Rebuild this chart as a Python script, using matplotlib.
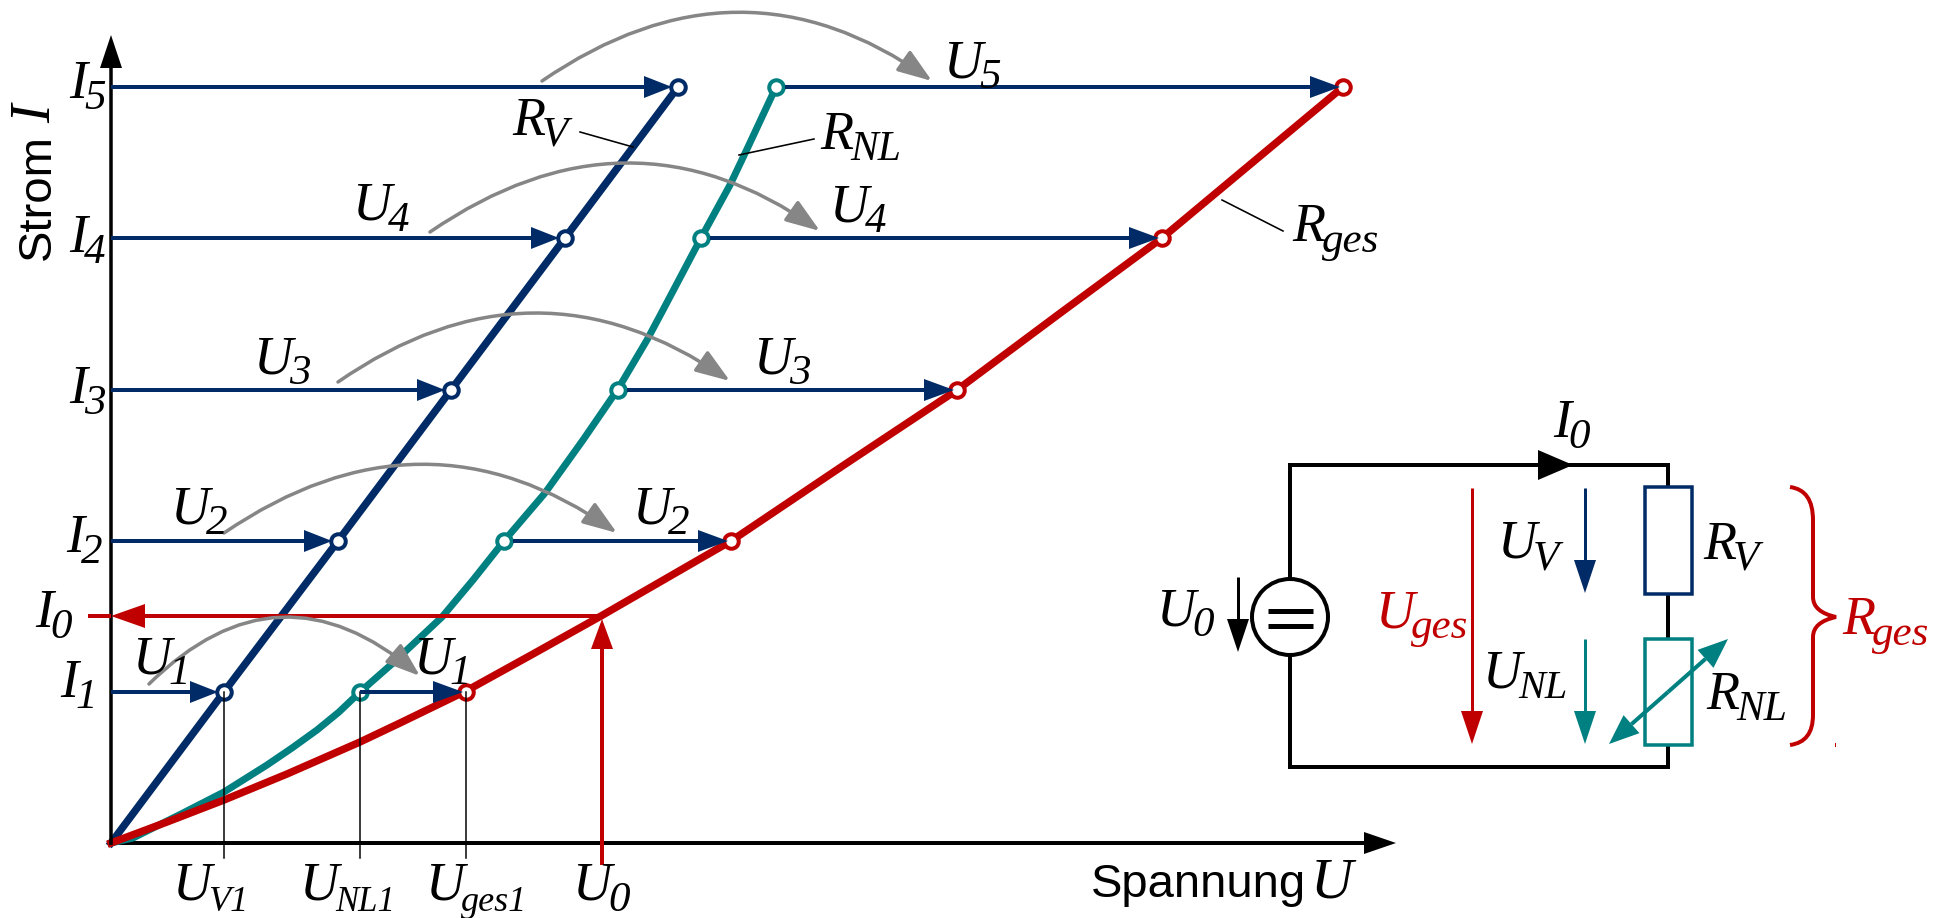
import matplotlib
matplotlib.use('Agg')
import matplotlib.pyplot as plt
import numpy as np
from matplotlib.patches import Ellipse, FancyArrowPatch, PathPatch, Rectangle
from matplotlib.path import Path

# values (1 unit = 1 pixel, origin = crossing of the axes)
strom = [151, 302, 453, 605, 756]
u_rv = [113, 227, 340, 454, 567]
u_rnl = [249, 393, 507, 590, 665]
u_rges = [355, 620, 846, 1051, 1232]

rv_u = [0, 113, 227, 340, 454, 567]
rv_i = [0, 151, 302, 453, 605, 756]
rnl_u = [0, 22, 72, 113, 156, 181, 206, 228, 249, 282, 331, 362, 393, 434, 472, 507, 536, 552, 590, 619, 637, 665]
rnl_i = [0, 5, 30, 51, 78, 95, 113, 131, 151, 180, 226, 263, 302, 350, 403, 454, 503, 533, 605, 658, 696, 756]
rges_u = [0, 56, 113, 176, 249, 289, 355, 422, 490, 620, 733, 846, 948, 1051, 1232]
rges_i = [0, 21, 43, 69, 101, 120, 152, 189, 227, 302, 378, 453, 529, 605, 756]

i0 = 227
u0 = 491

# grey arcs: start, control, end in picture pixels
bogen = [
    ((149, 684), (279, 556), (420, 676)),
    ((224, 533), (423, 397), (617, 533)),
    ((338, 382), (534, 246), (730, 381)),
    ((430, 232), (628, 96), (820, 231)),
    ((542, 81), (740, -55), (932, 81)),
]

NAVY = '#002b66'
TEAL = '#008080'
RED = '#c00000'
GREY = '#868686'

def pt(px):
    return px * 0.72

fig = plt.figure(figsize=(19.49, 9.18), dpi=100, facecolor='white')

# chart axes in U/I units
ax = fig.add_axes([0, 0, 1, 1])
ax.set_xlim(-111, 1838)
ax.set_ylim(-75, 843)
ax.axis('off')

# overlay in picture pixels for labels and the circuit
sk = fig.add_axes([0, 0, 1, 1])
sk.set_xlim(0, 1949)
sk.set_ylim(918, 0)
sk.axis('off')
sk.patch.set_alpha(0)

renderer = fig.canvas.get_renderer()


def arrow(a, x0, y0, x1, y1, color, lw=4, hl=28, hw=22, z=3):
    d = np.array([x1 - x0, y1 - y0], dtype=float)
    d = d / np.hypot(*d)
    n = np.array([-d[1], d[0]])
    tip = np.array([x1, y1])
    base = tip - d * hl
    a.plot([x0, base[0]], [y0, base[1]], color=color, lw=pt(lw), solid_capstyle='butt', zorder=z)
    head = np.array([tip, base + n * hw / 2, base - n * hw / 2])
    a.fill(head[:, 0], head[:, 1], color=color, lw=0, zorder=z)


def label(x, y, main, sub=None, color='black', size=39, subsize=31, drop=11, gap=-3):
    # italic U has a wide left bearing, x is where the ink starts
    if main == 'U':
        x = x - 4
    t = sk.text(x, y, main, family='Liberation Serif', style='italic', fontsize=size,
                color=color, va='baseline', ha='left', zorder=10)
    if sub:
        bb = t.get_window_extent(renderer)
        sk.text(bb.x1 + gap, y + drop, sub, family='Liberation Serif', style='italic',
                fontsize=subsize, color=color, va='baseline', ha='left', zorder=10)


# axes
arrow(ax, 0, -2, 0, 808, 'black', lw=3.5, hl=33, hw=22, z=6)
arrow(ax, -2, 0, 1285, 0, 'black', lw=4, hl=32, hw=22, z=2)

# curves
ax.plot(rv_u, rv_i, color=NAVY, lw=pt(7.5), solid_joinstyle='round', zorder=3)
ax.plot(rnl_u, rnl_i, color=TEAL, lw=pt(7), solid_joinstyle='round', zorder=3)
ax.plot(rges_u, rges_i, color=RED, lw=pt(7.5), solid_joinstyle='round', zorder=4)

# open circles
ax.plot(u_rv, strom, 'o', ms=pt(14.5), mfc='white', mec=NAVY, mew=pt(4), zorder=5)
ax.plot(u_rnl, strom, 'o', ms=pt(14.5), mfc='white', mec=TEAL, mew=pt(4), zorder=5)
ax.plot(u_rges, strom, 'o', ms=pt(14.5), mfc='white', mec=RED, mew=pt(4), zorder=5)

# thin guides to the U axis
for u, i in zip([113, 249, 355], [151, 151, 151]):
    ax.plot([u, u], [i, -15], color='black', lw=pt(1.5), zorder=6)

# construction arrows
for i, a, b, c in zip(strom, u_rv, u_rnl, u_rges):
    arrow(ax, 0, i, a - 6, i, NAVY, hl=28, hw=22, z=6)
    start = b if i == strom[0] else b + 9
    arrow(ax, start, i, c - 3, i, NAVY, hl=30, hw=22, z=6)

# operating point U0 / I0
arrow(ax, u0, -22, u0, i0 - 3, RED, lw=4, hl=30, hw=22, z=6)
arrow(ax, u0, i0, 0, i0, RED, lw=4, hl=34, hw=24, z=6)
ax.plot([-23, 0], [i0, i0], color=RED, lw=pt(4), solid_capstyle='butt', zorder=6)

# grey arcs
for s, c, e in bogen:
    p = Path([s, c, e], [Path.MOVETO, Path.CURVE3, Path.CURVE3])
    sk.add_patch(FancyArrowPatch(path=p, arrowstyle='-|>,head_length=21,head_width=7.5',
                                 mutation_scale=1, color=GREY, lw=pt(3.5), shrinkA=0, shrinkB=0,
                                 zorder=8))

# leader lines
sk.plot([580, 633], [132, 147], color='black', lw=pt(1.6), zorder=9)
sk.plot([739, 814], [155, 139], color='black', lw=pt(1.6), zorder=9)
sk.plot([1222, 1283], [200, 231], color='black', lw=pt(1.6), zorder=9)

# labels on the I axis
label(69, 98, 'I', '5')
label(69, 252, 'I', '4')
label(69, 403, 'I', '3')
label(66, 552, 'I', '2')
label(35, 627, 'I', '0')
label(60, 697, 'I', '1')

# labels on the arrows
label(136, 673, 'U', '1')
label(417, 673, 'U', '1')
label(174, 523, 'U', '2')
label(636, 523, 'U', '2')
label(257, 373, 'U', '3')
label(757, 373, 'U', '3')
label(356, 220, 'U', '4')
label(833, 221, 'U', '4')
label(947, 77, 'U', '5')
label(512, 135, 'R', 'V')
label(820, 149, 'R', 'NL', subsize=30)
label(1292, 241, 'R', 'ges')

# labels under the U axis
label(176, 900, 'U', 'V1', subsize=26)
label(303, 900, 'U', 'NL1', subsize=25)
label(429, 900, 'U', 'ges1', subsize=26)
label(576, 900, 'U', '0')

# axis titles
sk.text(1091, 897, 'Spannung', family='Liberation Sans', fontsize=34, va='baseline', ha='left')
sk.text(1311, 897, 'U', family='Liberation Serif', style='italic', fontsize=42, va='baseline', ha='left')
sk.text(50, 260, 'Strom', family='Liberation Sans', fontsize=34, rotation=90, va='baseline', ha='left',
        rotation_mode='anchor')
sk.text(50, 123, 'I', family='Liberation Serif', style='italic', fontsize=40, rotation=90,
        va='baseline', ha='left', rotation_mode='anchor')

# circuit wires
sk.plot([1668, 1668, 1290, 1290, 1668, 1668], [487, 465, 465, 767, 767, 745], color='black',
        lw=pt(4), solid_joinstyle='miter', zorder=2)
sk.plot([1668, 1668], [594, 639], color='black', lw=pt(4), zorder=2)
arrow(sk, 1500, 465, 1573, 465, 'black', lw=4, hl=35, hw=30)

# source
sk.add_patch(Ellipse((1290, 617), 76, 76, fc='white', ec='black', lw=pt(4), zorder=4))
sk.plot([1268, 1313], [611, 611], color='black', lw=pt(5), solid_capstyle='butt', zorder=5)
sk.plot([1268, 1313], [626, 626], color='black', lw=pt(5), solid_capstyle='butt', zorder=5)
arrow(sk, 1238, 577, 1238, 652, 'black', lw=3, hl=33, hw=22)

# resistors
sk.add_patch(Rectangle((1645, 487), 47, 107, fc='white', ec=NAVY, lw=pt(3.5), zorder=4))
sk.add_patch(Rectangle((1645, 639), 47, 106, fc='white', ec=TEAL, lw=pt(3.5), zorder=4))

# voltage arrows
arrow(sk, 1472, 488, 1472, 744, RED, lw=3, hl=33, hw=22)
arrow(sk, 1585, 488, 1585, 593, NAVY, lw=3, hl=33, hw=22)
arrow(sk, 1585, 639, 1585, 744, TEAL, lw=3, hl=33, hw=22)

# double arrow over the nonlinear resistor
arrow(sk, 1668, 692, 1728, 639, TEAL, lw=4, hl=30, hw=24, z=6)
arrow(sk, 1668, 692, 1609, 744, TEAL, lw=4, hl=30, hw=24, z=6)

# brace
klammer = Path([(1790, 487), (1813, 490), (1813, 520), (1813, 597), (1813, 612), (1836, 617),
                (1813, 622), (1813, 637), (1813, 715), (1813, 742), (1790, 745)],
               [Path.MOVETO, Path.CURVE3, Path.CURVE3, Path.LINETO, Path.CURVE3, Path.CURVE3,
                Path.CURVE3, Path.CURVE3, Path.LINETO, Path.CURVE3, Path.CURVE3])
sk.add_patch(PathPatch(klammer, fc='none', ec=RED, lw=pt(4), zorder=4))
sk.plot([1835.5, 1835.5], [743, 746], color=RED, lw=pt(1), zorder=4)

# circuit labels
label(1553, 437, 'I', '0')
label(1160, 625, 'U', '0')
label(1379, 627, 'U', 'ges', color=RED)
label(1501, 558, 'U', 'V')
label(1486, 687, 'U', 'NL', subsize=29)
label(1703, 559, 'R', 'V')
label(1706, 709, 'R', 'NL', subsize=30)
label(1842, 634, 'R', 'ges', color=RED)

plt.savefig('out.png', dpi=100)
